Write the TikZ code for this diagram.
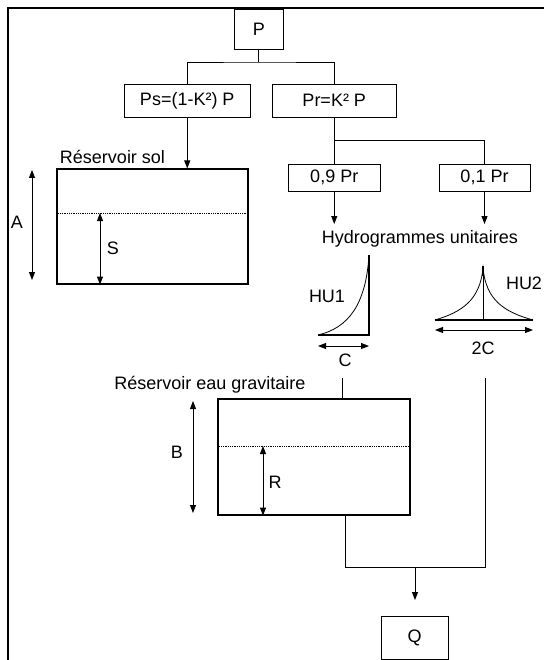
\documentclass[tikz,border=0pt]{standalone}
\usepackage{fontspec}
\setmainfont{Liberation Sans}
\usetikzlibrary{arrows.meta,positioning}

\begin{document}
\begin{tikzpicture}[
        x=1pt, y=-1pt,
        font=\fontsize{18}{20}\selectfont,
        box/.style={
            draw,
            line width=0.9pt,
            inner sep=0pt,
            minimum height=33pt
        },
        tank/.style={
            draw,
            line width=1.1pt,
            inner sep=0pt
        },
        txt/.style={inner sep=0pt},
        wire/.style={line width=0.9pt},
        flow/.style={-{Triangle[length=8pt,width=6pt]}, line width=0.9pt},
        dim/.style={{Triangle[length=8pt,width=6pt]}-{Triangle[length=8pt,width=6pt]}, line width=0.9pt},
        level/.style={densely dotted, line width=0.8pt},
        curve/.style={line width=0.8pt}
    ]

    \useasboundingbox (0,0) rectangle (544,660);
    \draw[line width=2pt] (8,660) -- (8,8) -- (544,8);

    \node[box, minimum width=49.5pt, minimum height=40pt] (P) at (258.75,29) {P};
    \node[box, minimum width=126.5pt] (Ps) at (187.25,100.5) {Ps=(1-K²) P};
    \node[box, minimum width=124.5pt] (Pr) at (334.25,100.5) {Pr=K² P};
    \node[box, minimum width=91.5pt, minimum height=27pt] (pr09) at (334.25,177.5) {0,9 Pr};
    \node[box, minimum width=91pt, minimum height=27pt] (pr01) at (484.5,177.5) {0,1 Pr};
    \node[txt] (hydro) at (420,239) {Hydrogrammes unitaires};

    \node[tank, minimum width=191pt, minimum height=115pt] (sol) at (152.5,226.5) {};
    \node[txt] (solLab) at (112.5,157) {Réservoir sol};
    \node[tank, minimum width=192pt, minimum height=116pt] (grav) at (314,457) {};
    \node[txt] (gravLab) at (210,385) {Réservoir eau gravitaire};
    \node[box, minimum width=67pt, minimum height=43pt] (Q) at (414.5,637.5) {Q};

    % niveaux des reservoirs
    \coordinate (solS) at (100,213);
    \coordinate (gravR) at (263,446);
    \draw[level] (sol.west |- solS) -- (sol.east |- solS);
    \draw[level] (grav.west |- gravR) -- (grav.east |- gravR);
    \draw[dim] (solS) -- (solS |- sol.south);
    \draw[dim] (gravR) -- (gravR |- grav.south);
    \coordinate (aTop) at (32,170);
    \coordinate (aBot) at (32,280);
    \coordinate (bTop) at (193,401);
    \coordinate (bBot) at (193,513);
    \draw[dim] (aTop) -- (aBot);
    \draw[dim] (bTop) -- (bBot);
    \node[txt] (A) at (17,222) {A};
    \node[txt] (S) at (113,248) {S};
    \node[txt] (B) at (177,452) {B};
    \node[txt] (R) at (275,482) {R};

    % hydrogrammes unitaires
    \draw[curve] (318,335) .. controls (348,328) and (366,305) .. (369,255);
    \draw[line width=1.3pt] (369,255) -- (369,335) -- (318,335);
    \draw[curve] (435,320) .. controls (462,312) and (480,300) .. (483,268)
                 .. controls (486,300) and (504,312) .. (533,320);
    \draw[line width=1.3pt] (483,266) -- (483,276);
    \draw[curve] (483,268) -- (483,320);
    \draw[line width=1.1pt] (435,320) -- (533,320);
    \coordinate (cL) at (318,346);
    \coordinate (cR) at (369,346);
    \coordinate (ccL) at (435,330);
    \coordinate (ccR) at (533,330);
    \draw[dim] (cL) -- (cR);
    \draw[dim] (ccL) -- (ccR);
    \node[txt] (hu1) at (327,296) {HU1};
    \node[txt] (C) at (345,360) {C};
    \node[txt] (hu2) at (524,283) {HU2};
    \node[txt] (twoC) at (483,348) {2C};

    \coordinate (split1) at (258.75,62);
    \coordinate (split2) at (334.25,140);
    \coordinate (hydroL) at (334.25,224);
    \coordinate (hydroR) at (484.5,224);
    \coordinate (in1) at (342,378);
    \coordinate (in2) at (485,378);
    \coordinate (out1) at (345,567);
    \coordinate (qIn) at (415,600);

    \draw[wire] (P) -- (split1);
    \draw[wire] (Ps.north) |- (split1) -| (Pr.north);
    \draw[flow] (Ps.south) -- (Ps.south |- sol.north);
    \draw[wire] (Pr.south) -- (pr09.north);
    \draw[wire] (split2) -| (pr01.north);
    \draw[flow] (pr09.south) -- (hydroL);
    \draw[flow] (pr01.south) -- (hydroR);
    \draw[wire] (in1) -- (in1 |- grav.north);
    \draw[wire] (grav.south -| out1) -- (out1) -| (in2);
    \draw[flow] (qIn |- out1) -- (qIn);

\end{tikzpicture}
\end{document}
